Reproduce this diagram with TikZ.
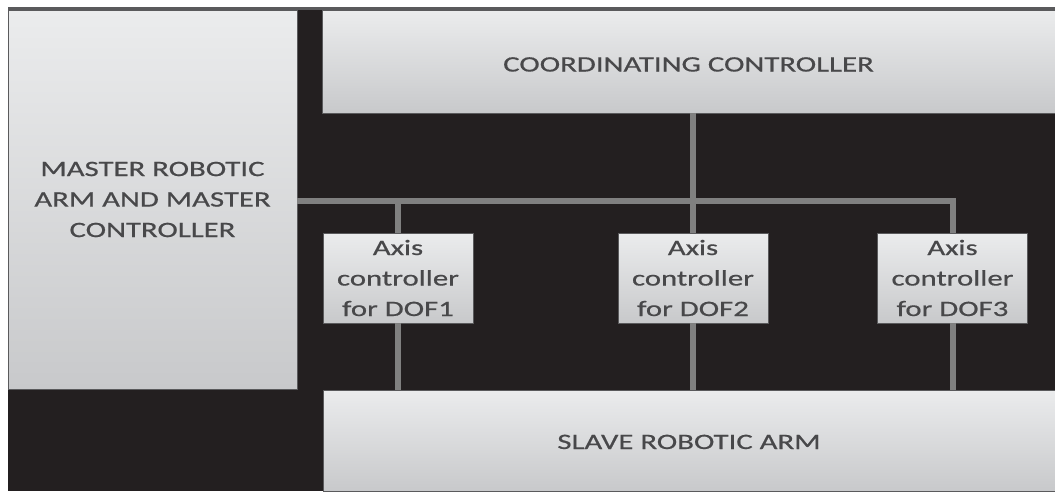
\documentclass[tikz,border=0pt]{standalone}
\usepackage{fontspec}
\setmainfont{Carlito}[FakeStretch=1.4,FakeBold=0.6]
\definecolor{bgdark}{RGB}{35,31,32}
\definecolor{boxtop}{RGB}{235,236,237}
\definecolor{boxbot}{RGB}{200,201,203}
\definecolor{txt}{RGB}{72,72,74}
\definecolor{wire}{RGB}{128,128,128}
\definecolor{rim}{RGB}{90,90,92}
\begin{document}
\begin{tikzpicture}[x=1pt,y=-1pt,
  blockbox/.style={rectangle, inner sep=0pt, outer sep=0pt, draw=rim, line width=0.8pt,
    top color=boxtop, bottom color=boxbot, text=txt, align=center,
    font=\fontsize{22}{30.5}\selectfont},
  axisbox/.style={blockbox, minimum width=150pt, minimum height=90pt},
  wirel/.style={draw=wire, line width=6pt}]
\useasboundingbox (0,0) rectangle (1055,491);
\fill[bgdark] (8,7) rectangle (1055,491);
\fill[rim] (8,7) rectangle (1055,10);
% main blocks
\node[blockbox, minimum width=289pt, minimum height=379pt] (master) at (152.5,199.5)
  {MASTER ROBOTIC\\ARM AND MASTER\\CONTROLLER};
\node[blockbox, minimum width=733pt, minimum height=103pt, text height=20pt, text depth=0pt] (coord) at (688.5,61.5)
  {COORDINATING CONTROLLER};
\node[blockbox, minimum width=732pt, minimum height=101pt, text height=17pt, text depth=0pt] (slave) at (689,440.5)
  {SLAVE ROBOTIC ARM};
% axis controllers
\node[axisbox] (ax1) at (398,278) {Axis\\controller\\for DOF1};
\node[axisbox] (ax2) at (693,278) {Axis\\controller\\for DOF2};
\node[axisbox] (ax3) at (952.5,278) {Axis\\controller\\for DOF3};
% signal bus
\coordinate (bus) at (0,201);
\draw[wirel] (master.east |- bus) -- (ax3.north |- bus) -- (ax3.north);
\draw[wirel] (ax1.north |- bus) -- (ax1.north);
\draw[wirel] (ax2.north |- coord.south) -- (ax2.north);
\draw[wirel] (ax1.south) -- (ax1.south |- slave.north);
\draw[wirel] (ax2.south) -- (ax2.south |- slave.north);
\draw[wirel] (ax3.south) -- (ax3.south |- slave.north);
\end{tikzpicture}
\end{document}
